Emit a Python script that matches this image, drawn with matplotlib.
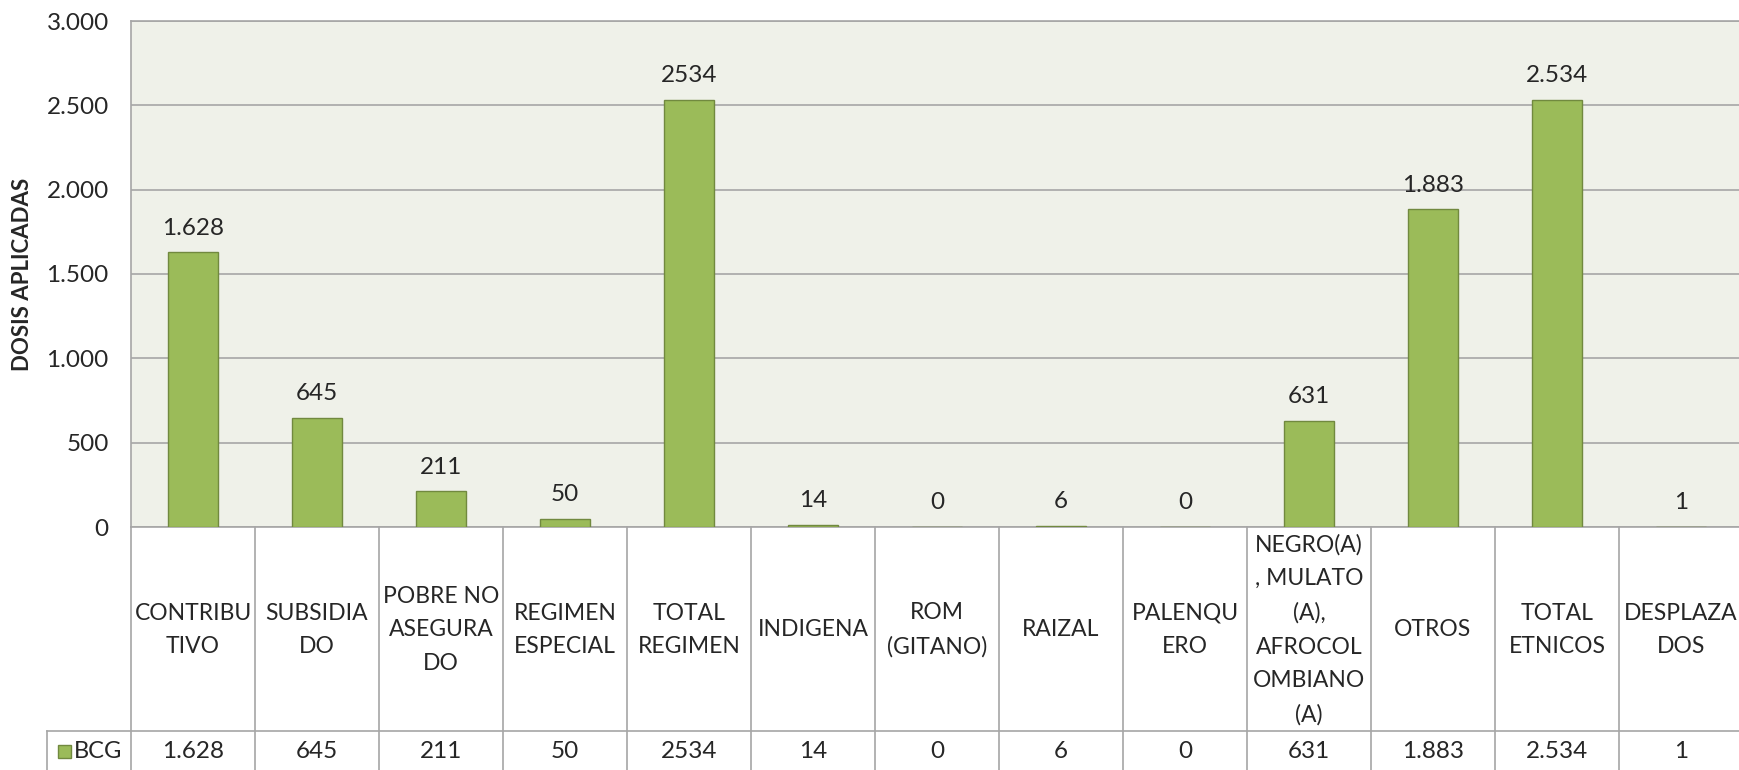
import matplotlib
matplotlib.use("Agg")
import matplotlib.pyplot as plt
from matplotlib.patches import Rectangle

plt.rcParams['font.family'] = ['Lato', 'DejaVu Sans']

categorias = ["CONTRIBU\nTIVO", "SUBSIDIA\nDO", "POBRE NO\nASEGURA\nDO", "REGIMEN\nESPECIAL",
              "TOTAL\nREGIMEN", "INDIGENA", "ROM\n(GITANO)", "RAIZAL", "PALENQU\nERO",
              "NEGRO(A)\n, MULATO\n(A),\nAFROCOL\nOMBIANO\n(A)", "OTROS", "TOTAL\nETNICOS",
              "DESPLAZA\nDOS"]
dosis = [1628, 645, 211, 50, 2534, 14, 0, 6, 0, 631, 1883, 2534, 1]
etiquetas = ["1.628", "645", "211", "50", "2534", "14", "0", "6", "0", "631", "1.883", "2.534", "1"]
serie = "BCG"
yticks = [0, 500, 1000, 1500, 2000, 2500, 3000]
ytick_labels = ["0", "500", "1.000", "1.500", "2.000", "2.500", "3.000"]

verde = "#9BBB59"
borde = "#71893F"
gris = "#A6A6A6"
texto = "#262626"

W, H = 1739, 770
fig = plt.figure(figsize=(W / 100, H / 100), dpi=100)

left, colw = 131, 124
n = len(categorias)
ax = fig.add_axes([left / W, (H - 527) / H, n * colw / W, (527 - 21) / H])
ax.set_facecolor("#EFF1E9")
x = list(range(n))
ax.bar(x, dosis, width=0.4, color=verde, edgecolor=borde, linewidth=1, zorder=3)
for xi, v, lab in zip(x, dosis, etiquetas):
    ax.annotate(lab, (xi, v), xytext=(0, 10), textcoords="offset points",
                ha="center", va="bottom", fontsize=17.5, color=texto)
ax.set_xlim(-0.5, n - 0.5)
ax.set_ylim(0, 3000)
ax.set_yticks(yticks)
ax.set_yticklabels(ytick_labels, fontsize=17.5, color=texto)
ax.set_xticks([])
ax.tick_params(axis="y", length=0, pad=16)
ax.grid(axis="y", color=gris, linewidth=1.2, zorder=0)
for s in ["top", "left", "bottom"]:
    ax.spines[s].set_color(gris)
    ax.spines[s].set_linewidth(1.2)
ax.spines["right"].set_visible(False)
ax.set_ylabel("DOSIS APLICADAS", fontsize=16, fontweight="bold", color=texto, labelpad=10)

# tabla de datos bajo el grafico
tb = fig.add_axes([left / W, 0, n * colw / W, (H - 527) / H])
tb.set_xlim(-0.5, n - 0.5)
tb.set_ylim(H, 527)
tb.axis("off")
row_y = 731
leg_left = -0.5 - (left - 47) / colw
tb.plot([-0.5, -0.5], [527, H], color=gris, lw=1.2, clip_on=False)
tb.plot([leg_left, n - 0.5], [row_y, row_y], color=gris, lw=1.2, clip_on=False)
tb.plot([leg_left, leg_left], [row_y, H], color=gris, lw=1.2, clip_on=False)
for i in range(n):
    tb.plot([i + 0.5, i + 0.5], [527, H], color=gris, lw=1.2, clip_on=False)
    tb.text(i, (527 + row_y) / 2 + 1, categorias[i], ha="center", va="center",
            fontsize=16.5, color=texto, linespacing=1.75)
    tb.text(i, 752, etiquetas[i], ha="center", va="center", fontsize=17.5, color=texto)

tb.add_patch(Rectangle((leg_left + 11 / colw, 745), 13 / colw, 13, facecolor=verde,
                       edgecolor=borde, lw=1, clip_on=False))
tb.text(leg_left + 27 / colw, 752, serie, ha="left", va="center", fontsize=17, color=texto)

fig.savefig("out.png", dpi=100, facecolor="white")
